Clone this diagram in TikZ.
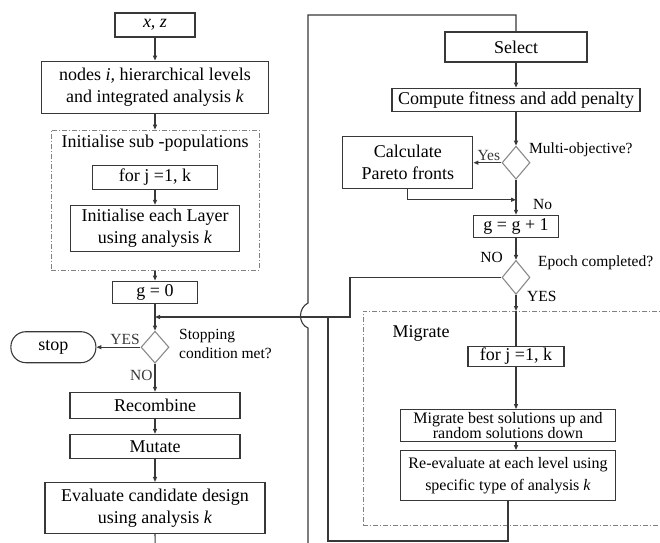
\documentclass[tikz,border=0pt]{standalone}
\usepackage{fontspec}
\setmainfont{Liberation Serif}
\usetikzlibrary{shapes.geometric, arrows.meta, positioning}
\usepackage{xcolor}
\definecolor{lineGray}{HTML}{383838}
\definecolor{diaGray}{HTML}{8A8A8A}
\newcommand\boxfont{\fontsize{18}{22}\selectfont}
\newcommand\smallboxfont{\fontsize{16}{22}\selectfont}
\newcommand\tightboxfont{\fontsize{16}{15}\selectfont}
\newcommand\lblfont{\fontsize{15.5}{18.5}\selectfont}
\tikzset{
    >={Triangle[length=5pt,width=4pt]},
    % Shapes
    box/.style={rectangle, draw=lineGray, line width=1.1pt, fill=white,
                align=center, inner sep=1pt, font=\boxfont},
    decision/.style={diamond, draw=diaGray, line width=1.1pt, fill=white,
                     minimum width=28pt, minimum height=33pt, inner sep=0pt},
    term/.style={rectangle, rounded corners=15pt, draw=lineGray, line width=1.1pt,
                 minimum width=85pt, minimum height=31pt, font=\boxfont},
    group/.style={rectangle, draw=gray, line width=0.9pt,
                  dash pattern=on 5pt off 2pt on 1pt off 2pt},
    % Flow & Labels
    flow/.style={->, line width=1.1pt, lineGray},
    wire/.style={line width=1.1pt, lineGray},
    lbl/.style={font=\lblfont, inner sep=1pt, align=left}
}

\begin{document}
\begin{tikzpicture}[x=1pt, y=-1pt]
\useasboundingbox (0,0) rectangle (660,542);
\clip (0,0) rectangle (660,542);

% left column
\node[box, minimum width=80pt, minimum height=24pt] (xz) at (155,25) {\textit{x, z}};
\node[box, minimum width=227pt, minimum height=52pt, below=23pt of xz] (levels)
    {nodes \textit{i,} hierarchical levels\\and integrated analysis \textit{k}};
\node[group, minimum width=208pt, minimum height=140pt, below=16pt of levels] (init) {};
\node[font=\boxfont, below=2pt of init.north] (inittitle) {Initialise sub -populations};
\node[box, minimum width=125pt, minimum height=24pt, below=35pt of init.north] (forj) {for j =1, k};
\node[box, minimum width=169pt, minimum height=46pt, below=15pt of forj] (layer)
    {Initialise each Layer\\using analysis \textit{k}};
\node[box, minimum width=85pt, minimum height=22pt, below=10pt of init] (g0) {g = 0};
\node[decision, minimum height=32pt, below=27pt of g0] (stopq) {};
\node[term, left=44pt of stopq] (stop) {stop};
\node[lbl, anchor=west] (stoplbl) at (178,344) {Stopping\\condition met?};
\node[box, minimum width=170pt, minimum height=26pt, below=28pt of stopq] (recomb) {Recombine};
\node[box, minimum width=170pt, minimum height=24pt, below=15pt of recomb] (mutate) {Mutate};
\node[box, minimum width=220pt, minimum height=51pt, below=23pt of mutate] (eval)
    {Evaluate candidate design\\using analysis \textit{k}};

% right column
\node[box, minimum width=142pt, minimum height=30pt] (select) at (516,47) {Select};
\node[box, minimum width=248pt, minimum height=23pt, below=25pt of select] (fitness)
    {Compute fitness and add penalty};
\node[decision, below=34pt of fitness] (multi) {};
\node[lbl, anchor=west] (multilbl) at (528,150) {Multi-objective?};
\node[box, minimum width=130pt, minimum height=52pt, left=28pt of multi] (pareto)
    {Calculate\\Pareto fronts};
\node[box, minimum width=85pt, minimum height=22pt, below=35pt of multi] (gnext) {g = g + 1};
\node[decision, minimum height=34pt, below=22pt of gnext] (epoch) {};
\node[lbl, anchor=west] (epochlbl) at (537,263) {Epoch completed?};
\node[group, minimum width=310pt, minimum height=214pt, anchor=north west] (mig) at (363,311) {};
\node[font=\boxfont, anchor=west] (migtitle) at (389,333) {Migrate};
\node[box, minimum width=96pt, minimum height=20pt, below=51pt of epoch] (forjb) {for j =1, k};
\node[box, font=\tightboxfont, minimum width=215pt, minimum height=32pt,
      below=42pt of forjb, xshift=-8pt] (migbest)
    {Migrate best solutions up and\\random solutions down};
\node[box, font=\smallboxfont, minimum width=215pt, minimum height=50pt, below=8pt of migbest] (reeval)
    {Re-evaluate at each level using\\specific type of analysis \textit{k}};

% waypoints
\coordinate (lowL) at (156,580);
\coordinate (lowM) at (308,580);
\coordinate (topM) at (308,15);
\coordinate (noturn) at (350,317);
\coordinate (back) at (328,317);
\coordinate (backlow) at (328,541);
\path (multi.south) ++(0,20) coordinate (pjoin);

% left flow
\draw[flow] (xz) -- (levels);
\draw[flow] (levels) -- (init);
\draw[flow] (forj) -- (layer);
\draw[flow] (init) -- (g0);
\draw[flow] (g0) -- (stopq);
\draw[flow] (stopq) -- node[lbl, above=1pt, pos=0.35] {YES} (stop);
\draw[flow] (stopq) -- node[lbl, left=1pt, pos=0.4] {NO} (recomb);
\draw[flow] (recomb) -- (mutate);
\draw[flow] (mutate) -- (eval);

% big loop back to select, jumping the return line
\draw[wire] (eval.south) -- (lowL) -- (lowM) -- (308,328)
    .. controls (298,324) and (298,308) .. (308,303) -- (topM) -| (select.north);

% right flow
\draw[flow] (select) -- (fitness);
\draw[flow] (fitness) -- (multi);
\draw[flow] (multi) -- node[lbl, above=1pt, pos=0.45] {Yes} (pareto);
\draw[flow] (pareto.south) |- (pjoin);
\draw[flow] (multi) -- (gnext);
\node[lbl, right=16pt of pjoin, yshift=-5pt] (nolbl) {No};
\draw[flow] (gnext) -- (epoch);
\node[lbl, anchor=east] (epochno) at (504,257) {NO};
\draw[flow] (epoch.west) -| (noturn) -- (noturn -| stopq.north);
\draw[flow] (epoch) -- (epoch |- mig.north);
\draw[wire] (epoch |- mig.north) -- (forjb);
\node[lbl, anchor=west] (epochyes) at (526,296) {YES};
\draw[flow] (forjb) -- (forjb |- migbest.north);
\draw[flow] (forjb |- migbest.south) -- (forjb |- reeval.north);
\draw[wire] (reeval.south) |- (backlow) -- (back);

\end{tikzpicture}
\end{document}
